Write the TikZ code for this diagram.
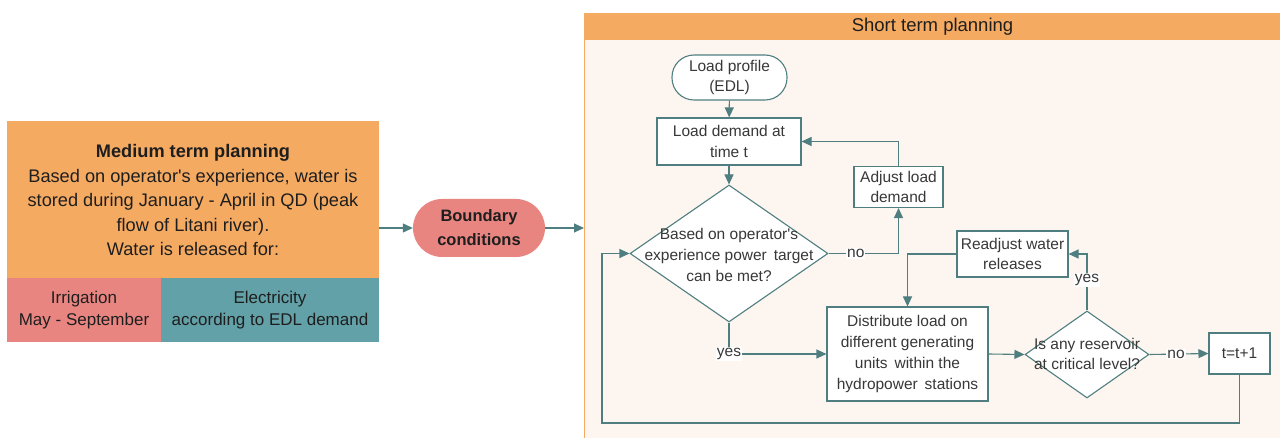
\documentclass[tikz,border=0pt]{standalone}
\usepackage{fontspec}
\setmainfont{Liberation Sans}[Ligatures=TeXOff]
\usetikzlibrary{arrows.meta,shapes.geometric,calc}
\definecolor{orangeC}{HTML}{F5AA62}
\definecolor{pinkC}{HTML}{E98581}
\definecolor{tealC}{HTML}{62A1A7}
\definecolor{bodyC}{HTML}{FDF5EF}
\definecolor{lineC}{HTML}{4F7E80}
\definecolor{txtC}{HTML}{383838}
\definecolor{darkC}{HTML}{1E1E1E}
\begin{document}
\begin{tikzpicture}[x=1pt,y=-1pt,
  fc/.style={draw=lineC, line width=1.1pt, fill=white, align=center, text=txtC,
    font=\fontsize{15.5}{20.8}\selectfont, inner sep=0pt},
  ln/.style={draw=lineC, line width=1.1pt},
  arr/.style={ln, -{Triangle[length=10pt,width=9pt]}},
  lbl/.style={fill=white, text=txtC, font=\fontsize{15.5}{18}\selectfont, inner sep=1pt},
  ftxt/.style={align=center, text=txtC, font=\fontsize{15.5}{20.8}\selectfont}
]
\useasboundingbox (0,0) rectangle (1280,438);
\fill[white] (0,0) rectangle (1280,438);

% ---------------- medium term planning
\node[fill=orangeC, minimum width=372, minimum height=157, anchor=north west, inner sep=0pt] (med) at (7,121) {};
\node[fill=pinkC, minimum width=154, minimum height=64, anchor=north west, inner sep=0pt] (irr) at (7,278) {};
\node[fill=tealC, minimum width=218, minimum height=64, anchor=north west, inner sep=0pt] (ele) at (161,278) {};
\node[minimum width=372, minimum height=221, anchor=north west, inner sep=0pt] (medall) at (7,121) {};
\node[align=center, text=darkC, font=\fontsize{18.2}{24.5}\selectfont] (medtxt) at (193,200)
  {\textbf{Medium term planning}\\Based on operator's experience, water is\\stored during January - April in QD (peak\\flow of Litani river).\\Water is released for:};
\node[align=center, text=darkC, font=\fontsize{17}{22.5}\selectfont] (irrtxt) at (84,310) {Irrigation\\May - September};
\node[align=center, text=darkC, font=\fontsize{17}{22.5}\selectfont] (eletxt) at (270,310) {Electricity\\according to EDL demand};

% ---------------- boundary conditions
\node[fill=pinkC, rounded corners=29pt, minimum width=132, minimum height=58, align=center,
  text=darkC, font=\bfseries\fontsize{16.5}{24}\selectfont, inner sep=0pt] (bc) at (479,228) {Boundary\\conditions};

% ---------------- short term frame
\node[fill=bodyC, draw=orangeC, line width=1.2pt, minimum width=710, minimum height=430, anchor=north west, inner sep=0pt] (st) at (584,13) {};
\node[fill=orangeC, minimum width=710, minimum height=27, anchor=north west, inner sep=0pt] (sthead) at (584,13) {};
\node[text=darkC, font=\fontsize{18.5}{20}\selectfont] (sttxt) at (932.5,26.5) {Short term planning};

\draw[arr] (bc.west -| medall.east) -- (bc.west);
\draw[arr] (bc.east) -- (bc.east -| st.west);

% ---------------- flowchart
\node[fc, rounded corners=22pt, minimum width=115, minimum height=45] (lp) at (729.5,77.5) {Load profile\\(EDL)};
\node[fc, minimum width=144, minimum height=47] (ld) at (729,141.5) {Load demand at\\time t};
\node[fc, diamond, minimum width=198, minimum height=137] (d1) at (729,253.5) {};
\node[ftxt] (d1txt) at (729,255) {Based on operator's\\experience power\,\ target\\can be met?};
\node[fc, minimum width=89, minimum height=41] (adj) at (898.5,187) {Adjust load\\demand};
\node[fc, minimum width=161, minimum height=94] (dist) at (907.5,354) {Distribute load on\\different generating\\units\,\ within the\\hydropower\,\ stations};
\node[fc, minimum width=111, minimum height=46] (rw) at (1012.5,254) {Readjust water\\releases};
\node[fc, diamond, minimum width=124, minimum height=87] (d2) at (1087,354.5) {};
\node[ftxt] (d2txt) at (1087,354) {Is any reservoir\\at critical level?};
\node[fc, minimum width=61, minimum height=41] (tt) at (1239.5,353.5) {t=t+1};
\coordinate (lb) at (602,423);

\draw[arr] (lp) -- (ld);
\draw[arr] (ld) -- (d1.north);
\draw[arr] (d1.east) -- node[lbl, pos=0.39]{no} (d1.east -| adj.south) -- (adj.south);
\draw[arr] (adj.north) |- (ld.east);
\draw[arr] (d1.south) |- node[lbl, pos=0.5]{yes} (dist.west);
\draw[arr] (rw.west) -| (dist.north);
\draw[arr] (dist.east) -- (d2.west);
\draw[arr] (d2.north) |- node[lbl, pos=0.27]{yes} (rw.east);
\draw[arr] (d2.east) -- node[lbl, pos=0.45]{no} (tt.west);
\draw[arr] (tt.south) |- (lb) |- (d1.west);
\end{tikzpicture}
\end{document}
